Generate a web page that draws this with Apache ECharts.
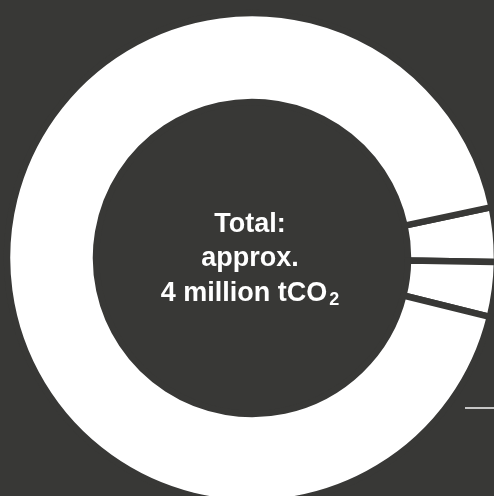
<!DOCTYPE html>
<html>
<head>
<meta charset="utf-8">
<style>
  html, body { margin: 0; padding: 0; background: #383836; }
  #chart { width: 494px; height: 496px; }
</style>
<script src="https://cdn.jsdelivr.net/npm/echarts@6/dist/echarts.min.js"></script>
</head>
<body>
<div id="chart"></div>
<script>
// Emission shares (percent of the total), clockwise from the upper separator
const segmentNames = ['Scope 2', 'Scope 1', 'Scope 3'];
const segmentShares = [3.6, 3.6, 92.8];

// Centre caption
const captionLines = ['Total:', 'approx.', '4 million tCO'];
const captionSubscript = '2';

const BG = '#383836';
const FONT = '"Liberation Sans", Arial, sans-serif';

const chart = echarts.init(document.getElementById('chart'), null, { renderer: 'canvas' });

const pieData = segmentNames.map((name, i) => ({ name, value: segmentShares[i] }));

const captionText =
  captionLines.slice(0, -1).map(t => '{m|' + t + '}').join('\n') +
  '\n{m|' + captionLines[captionLines.length - 1] + '}{s|' + captionSubscript + '}';

chart.setOption({
  backgroundColor: BG,
  animation: false,
  series: [{
    type: 'pie',
    center: [252, 258],
    radius: [156, 245],
    startAngle: 12,
    clockwise: true,
    silent: true,
    label: { show: false },
    labelLine: { show: false },
    itemStyle: {
      color: '#ffffff',
      borderColor: BG,
      borderWidth: 6.5
    },
    emphasis: { disabled: true },
    data: pieData
  }],
  graphic: [
    {
      type: 'text',
      x: 250,
      y: 259,
      silent: true,
      style: {
        text: captionText,
        align: 'center',
        verticalAlign: 'middle',
        fill: '#ffffff',
        rich: {
          m: {
            fill: '#ffffff',
            fontFamily: FONT,
            fontWeight: 'bold',
            fontSize: 27,
            lineHeight: 34.5
          },
          s: {
            fill: '#ffffff',
            fontFamily: FONT,
            fontWeight: 'bold',
            fontSize: 18,
            lineHeight: 34.5,
            padding: [14, 0, 0, 2]
          }
        }
      }
    },
    {
      // leader line towards an annotation to the right
      type: 'line',
      silent: true,
      shape: { x1: 465, y1: 408, x2: 494, y2: 408 },
      style: { stroke: '#c6c6c6', lineWidth: 2 }
    }
  ]
});
</script>
</body>
</html>
